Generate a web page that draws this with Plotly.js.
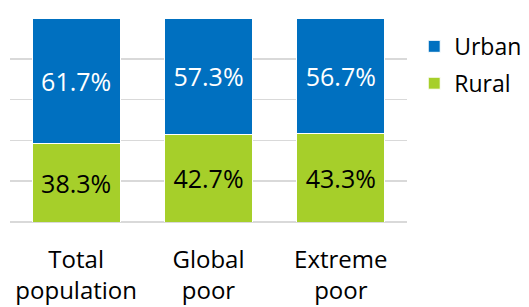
<!DOCTYPE html>
<html><head><meta charset="utf-8">
<script src="https://cdn.plot.ly/plotly-3.0.1.min.js"></script>
<style>body{margin:0;padding:0;background:#fff}#c{width:529px;height:307px}</style>
</head><body><div id="c"></div>
<script>
var categories = ["Total<br>population", "Global<br>poor", "Extreme<br>poor"];
var rural = [38.3, 42.7, 43.3];
var urban = [61.7, 57.3, 56.7];
var FONT = "Open Sans, Noto Sans, sans-serif";
var traces = [
  {type:"bar", name:"Rural", legendgroup:"r", legendrank:2, x:categories, y:rural,
   text: rural.map(function(v){return v.toFixed(1)+"%";}), textposition:"inside",
   insidetextanchor:"middle", textfont:{color:"#000", size:25, family:FONT},
   marker:{color:"#a6cf2a", line:{color:"#ffffff", width:1}}, hoverinfo:"none"},
  {type:"bar", name:"Urban", legendgroup:"u", legendrank:1, x:categories, y:urban,
   text: urban.map(function(v){return v.toFixed(1)+"%";}), textposition:"inside",
   insidetextanchor:"middle", textfont:{color:"#fff", size:25, family:FONT},
   marker:{color:"#0070c0", line:{color:"#ffffff", width:1}}, hoverinfo:"none"}
];
var layout = {
  width:529, height:307, barmode:"stack", bargap:0.335,
  margin:{l:10, r:122, t:18, b:85},
  paper_bgcolor:"#fff", plot_bgcolor:"#fff",
  font:{family:FONT, size:24, color:"#000"},
  xaxis:{tickfont:{size:24, family:FONT, color:"#000"}, ticks:"", showline:false, fixedrange:true, ticklabelstandoff:21},
  yaxis:{range:[0,100], dtick:20, showticklabels:false, gridcolor:"#d9d9d9", gridwidth:1.5, zeroline:true, zerolinecolor:"#d9d9d9", zerolinewidth:1.5, fixedrange:true},
  showlegend:true,
  legend:{xref:"container", yref:"container", x:0.783, y:0.919, xanchor:"left", yanchor:"top", traceorder:"grouped", font:{size:23, family:FONT, color:"#000"}, tracegroupgap:4, itemwidth:30},
  uniformtext:{mode:false}
};
Plotly.newPlot("c", traces, layout, {displayModeBar:false, staticPlot:true});
</script></body></html>
